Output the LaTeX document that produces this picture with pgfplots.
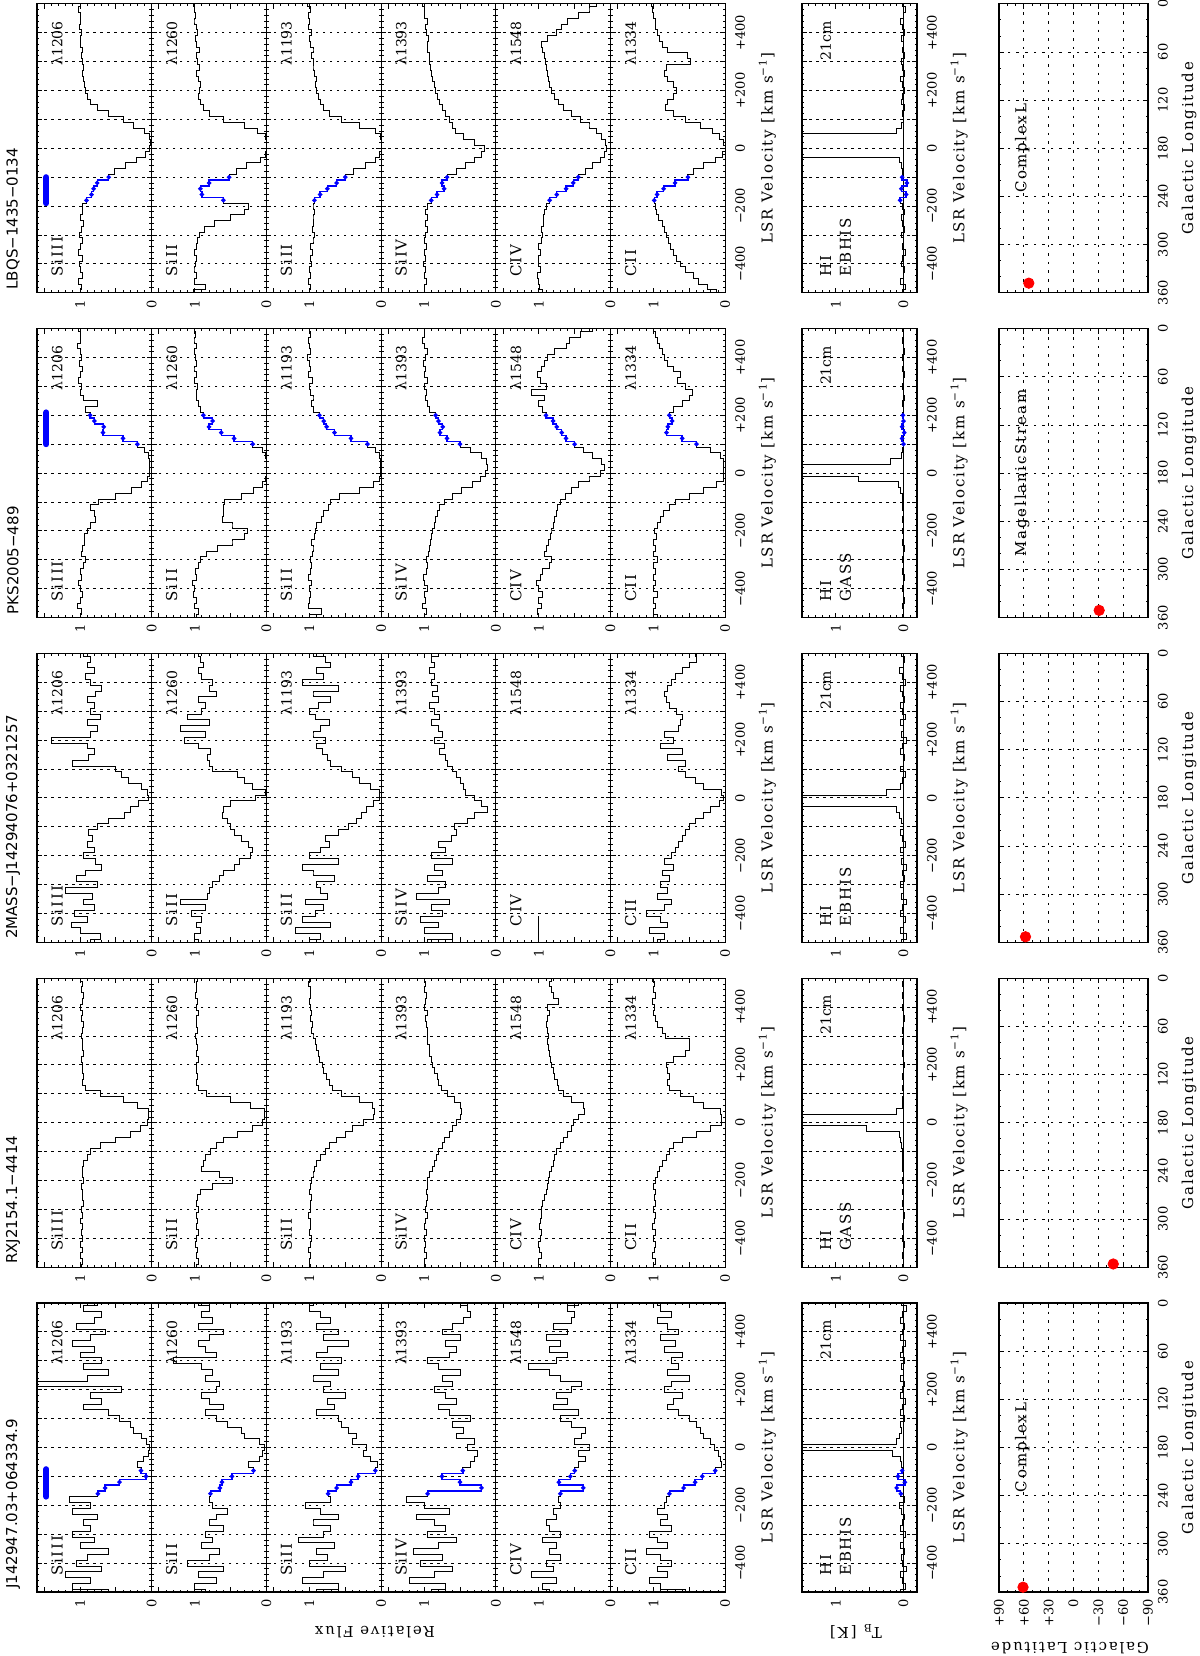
\documentclass[border=0pt]{standalone}
\usepackage{fontspec}
\setmainfont{DejaVu Serif}
\newfontfamily\spaced{DejaVu Serif}[LetterSpace=12]
\newfontfamily\titlefont{DejaVu Sans}
\usepackage{graphicx}
\usepackage{pgfplots}
\usepackage{pgfplotstable}
\pgfplotsset{compat=1.18}

\newcommand\lab{\spaced\fontsize{7.5}{8}\selectfont}
\newcommand\lam{\fontsize{7}{8}\selectfont}
\newcommand\tkfont{\fontsize{6.5}{7}\selectfont}

% ---------------- LBQS-1435-0134 ----------------
\pgfplotstableread[row sep=\\]{v f\\
-500 1.00\\-480 0.98\\-460 1.02\\-440 0.97\\-420 1.00\\-400 1.01\\-380 0.97\\-360 1.02\\-340 0.99\\-320 0.96\\
-300 1.01\\-280 0.98\\-260 0.95\\-240 0.99\\-220 0.96\\-200 0.97\\-180 0.91\\-160 0.84\\-140 0.81\\-120 0.76\\
-100 0.60\\-80 0.52\\-60 0.36\\-40 0.21\\-20 0.09\\0 0.03\\20 0.02\\40 0.03\\60 0.10\\80 0.25\\
100 0.40\\120 0.60\\140 0.76\\160 0.85\\180 0.90\\200 0.92\\220 0.94\\240 0.95\\260 0.96\\280 0.95\\
300 0.97\\320 0.98\\340 0.96\\360 0.99\\380 1.00\\400 0.98\\420 1.01\\440 1.00\\460 0.99\\480 1.02\\500 1.00\\}\tLA
\pgfplotstableread[row sep=\\]{v f\\
-500 1.02\\-480 0.85\\-460 1.00\\-440 0.98\\-420 1.01\\-400 0.99\\-380 0.97\\-360 1.00\\-340 0.98\\-320 0.96\\
-300 0.94\\-280 0.86\\-260 0.72\\-240 0.50\\-220 0.30\\-200 0.25\\-180 0.60\\-160 0.90\\-140 0.92\\-120 0.80\\
-100 0.52\\-80 0.42\\-60 0.28\\-40 0.09\\-20 0.02\\0 0.00\\20 0.00\\40 0.01\\60 0.12\\80 0.30\\
100 0.60\\120 0.80\\140 0.88\\160 0.92\\180 0.95\\200 0.94\\220 0.92\\240 0.95\\260 0.97\\280 0.93\\
300 0.96\\320 0.98\\340 0.94\\360 0.97\\380 0.99\\400 0.96\\420 0.98\\440 1.01\\460 0.99\\480 1.00\\500 1.02\\}\tLB
\pgfplotstableread[row sep=\\]{v f\\
-500 1.00\\-480 0.99\\-460 1.01\\-440 0.98\\-420 1.00\\-400 0.97\\-380 0.99\\-360 0.96\\-340 0.98\\-320 0.95\\
-300 0.93\\-280 0.96\\-260 0.94\\-240 0.95\\-220 0.93\\-200 0.95\\-180 0.93\\-160 0.85\\-140 0.75\\-120 0.62\\
-100 0.50\\-80 0.38\\-60 0.22\\-40 0.08\\-20 0.02\\0 0.00\\20 0.00\\40 0.01\\60 0.08\\80 0.30\\
100 0.55\\120 0.72\\140 0.80\\160 0.84\\180 0.88\\200 0.90\\220 0.92\\240 0.90\\260 0.93\\280 0.95\\
300 0.94\\320 0.97\\340 0.95\\360 0.98\\380 1.00\\400 0.97\\420 1.02\\440 1.00\\460 1.01\\480 0.99\\500 1.03\\}\tLC
\pgfplotstableread[row sep=\\]{v f\\
-500 0.99\\-480 1.00\\-460 0.97\\-440 1.00\\-420 0.98\\-400 1.01\\-380 0.98\\-360 1.00\\-340 0.97\\-320 0.99\\
-300 0.98\\-280 0.96\\-260 0.98\\-240 0.96\\-220 0.98\\-200 0.95\\-180 0.90\\-160 0.82\\-140 0.72\\-120 0.75\\
-100 0.68\\-80 0.55\\-60 0.42\\-40 0.30\\-20 0.20\\0 0.16\\20 0.30\\40 0.45\\60 0.56\\80 0.60\\
100 0.64\\120 0.70\\140 0.74\\160 0.78\\180 0.82\\200 0.84\\220 0.86\\240 0.88\\260 0.90\\280 0.91\\
300 0.93\\320 0.92\\340 0.95\\360 0.96\\380 0.94\\400 0.97\\420 0.98\\440 0.96\\460 0.99\\480 1.00\\500 1.02\\}\tLD
\pgfplotstableread[row sep=\\]{v f\\
-500 0.95\\-480 0.99\\-460 1.00\\-440 1.02\\-420 0.98\\-400 1.00\\-380 1.01\\-360 0.98\\-340 1.00\\-320 0.97\\
-300 0.95\\-280 0.96\\-260 0.94\\-240 0.93\\-220 0.92\\-200 0.90\\-180 0.85\\-160 0.75\\-140 0.62\\-120 0.52\\
-100 0.45\\-80 0.35\\-60 0.25\\-40 0.14\\-20 0.08\\0 0.06\\20 0.07\\40 0.12\\60 0.20\\80 0.30\\
100 0.42\\120 0.55\\140 0.65\\160 0.72\\180 0.78\\200 0.82\\220 0.85\\240 0.87\\260 0.88\\280 0.90\\
300 0.91\\320 0.92\\340 0.95\\360 0.97\\380 0.88\\400 0.75\\420 0.68\\440 0.60\\460 0.45\\480 0.30\\500 0.20\\}\tLE
\pgfplotstableread[row sep=\\]{v f\\
-500 0.12\\-480 0.25\\-460 0.38\\-440 0.45\\-420 0.55\\-400 0.62\\-380 0.68\\-360 0.72\\-340 0.76\\-320 0.79\\
-300 0.82\\-280 0.85\\-260 0.88\\-240 0.93\\-220 0.96\\-200 0.98\\-180 0.99\\-160 0.95\\-140 0.86\\-120 0.70\\
-100 0.52\\-80 0.45\\-60 0.30\\-40 0.14\\-20 0.04\\0 0.00\\20 0.02\\40 0.08\\60 0.18\\80 0.35\\
100 0.55\\120 0.72\\140 0.83\\160 0.80\\180 0.72\\200 0.68\\220 0.72\\240 0.80\\260 0.85\\280 0.82\\
300 0.48\\320 0.52\\340 0.80\\360 0.88\\380 0.92\\400 0.95\\420 0.97\\440 0.98\\460 1.00\\480 1.02\\500 1.03\\}\tLF
\pgfplotstableread[row sep=\\]{v f\\
-500 0.02\\-480 -0.03\\-460 0.04\\-440 0.00\\-420 -0.02\\-400 0.03\\-380 0.01\\-360 -0.03\\-340 0.02\\-320 0.00\\
-300 0.03\\-280 -0.02\\-260 0.01\\-240 0.03\\-220 -0.01\\-200 0.02\\-180 0.05\\-160 -0.04\\-140 0.03\\-120 -0.05\\
-100 0.02\\-80 0.01\\-60 0.03\\-40 0.06\\-20 2.50\\0 5.00\\20 5.00\\40 2.00\\60 0.10\\80 0.03\\
100 0.00\\120 0.02\\140 -0.02\\160 0.03\\180 0.01\\200 -0.01\\220 0.02\\240 0.04\\260 -0.02\\280 0.01\\
300 0.03\\320 -0.01\\340 0.02\\360 0.00\\380 0.03\\400 -0.02\\420 0.01\\440 0.04\\460 0.00\\480 -0.03\\500 0.02\\}\tLG

% ---------------- PKS2005-489 ----------------
\pgfplotstableread[row sep=\\]{v f\\
-500 1.00\\-480 0.98\\-460 1.03\\-440 1.00\\-420 0.97\\-400 1.00\\-380 1.02\\-360 0.98\\-340 1.00\\-320 0.95\\
-300 0.93\\-280 0.98\\-260 0.96\\-240 0.94\\-220 0.94\\-200 0.90\\-180 0.85\\-160 0.78\\-140 0.80\\-120 0.85\\
-100 0.74\\-80 0.50\\-60 0.28\\-40 0.14\\-20 0.06\\0 0.03\\20 0.03\\40 0.03\\60 0.04\\80 0.10\\
100 0.20\\120 0.40\\140 0.68\\160 0.67\\180 0.80\\200 0.86\\220 0.92\\240 0.75\\260 0.95\\280 1.00\\
300 0.98\\320 1.02\\340 1.00\\360 0.97\\380 1.01\\400 0.98\\420 1.00\\440 1.03\\460 0.99\\480 1.00\\500 1.02\\}\tPA
\pgfplotstableread[row sep=\\]{v f\\
-500 0.97\\-480 0.95\\-460 1.00\\-440 0.98\\-420 1.02\\-400 1.00\\-380 1.03\\-360 0.97\\-340 0.99\\-320 0.95\\
-300 0.92\\-280 0.84\\-260 0.68\\-240 0.48\\-220 0.30\\-200 0.26\\-180 0.48\\-160 0.62\\-140 0.60\\-120 0.60\\
-100 0.58\\-80 0.35\\-60 0.18\\-40 0.06\\-20 0.01\\0 0.00\\20 0.00\\40 0.00\\60 0.01\\80 0.05\\
100 0.19\\120 0.45\\140 0.63\\160 0.80\\180 0.75\\200 0.88\\220 0.92\\240 0.95\\260 0.97\\280 0.98\\
300 0.96\\320 1.00\\340 0.98\\360 1.01\\380 0.97\\400 0.99\\420 1.00\\440 0.98\\460 1.01\\480 0.99\\500 1.00\\}\tPB
\pgfplotstableread[row sep=\\]{v f\\
-500 1.00\\-480 0.83\\-460 1.02\\-440 1.00\\-420 0.98\\-400 1.00\\-380 0.97\\-360 1.01\\-340 0.99\\-320 0.97\\
-300 0.98\\-280 0.96\\-260 0.95\\-240 0.97\\-220 0.93\\-200 0.92\\-180 0.90\\-160 0.83\\-140 0.80\\-120 0.74\\
-100 0.70\\-80 0.58\\-60 0.30\\-40 0.10\\-20 0.02\\0 0.01\\20 0.01\\40 0.01\\60 0.02\\80 0.08\\
100 0.19\\120 0.42\\140 0.65\\160 0.76\\180 0.80\\200 0.86\\220 0.94\\240 0.97\\260 0.95\\280 0.99\\
300 1.00\\320 0.96\\340 1.02\\360 0.98\\380 1.00\\400 1.03\\420 0.98\\440 1.00\\460 1.02\\480 0.99\\500 1.00\\}\tPC
\pgfplotstableread[row sep=\\]{v f\\
-500 0.99\\-480 0.97\\-460 1.02\\-440 0.98\\-420 1.00\\-400 0.96\\-380 0.99\\-360 1.01\\-340 0.97\\-320 0.95\\
-300 0.97\\-280 0.94\\-260 0.93\\-240 0.91\\-220 0.90\\-200 0.88\\-180 0.86\\-160 0.84\\-140 0.82\\-120 0.78\\
-100 0.72\\-80 0.60\\-60 0.48\\-40 0.32\\-20 0.22\\0 0.14\\20 0.12\\40 0.13\\60 0.20\\80 0.35\\
100 0.50\\120 0.68\\140 0.78\\160 0.74\\180 0.80\\200 0.84\\220 0.92\\240 0.96\\260 0.98\\280 0.97\\
300 0.99\\320 0.96\\340 1.00\\360 0.98\\380 1.01\\400 0.98\\420 0.95\\440 1.00\\460 1.02\\480 0.99\\500 1.00\\}\tPD
\pgfplotstableread[row sep=\\]{v f\\
-500 1.00\\-480 1.02\\-460 0.97\\-440 1.00\\-420 0.95\\-400 1.00\\-380 1.03\\-360 0.98\\-340 0.95\\-320 0.85\\
-300 0.82\\-280 0.92\\-260 0.90\\-240 0.86\\-220 0.84\\-200 0.83\\-180 0.80\\-160 0.78\\-140 0.76\\-120 0.74\\
-100 0.70\\-80 0.63\\-60 0.55\\-40 0.45\\-20 0.30\\0 0.14\\20 0.09\\40 0.12\\60 0.25\\80 0.38\\
100 0.50\\120 0.62\\140 0.68\\160 0.75\\180 0.80\\200 0.90\\220 0.95\\240 1.00\\260 0.92\\280 1.10\\
300 0.90\\320 0.98\\340 1.02\\360 0.97\\380 0.92\\400 0.88\\420 0.78\\440 0.62\\460 0.57\\480 0.42\\500 0.25\\}\tPE
\pgfplotstableread[row sep=\\]{v f\\
-500 0.94\\-480 1.00\\-460 0.98\\-440 1.00\\-420 0.95\\-400 1.00\\-380 0.98\\-360 1.00\\-340 0.97\\-320 1.00\\
-300 0.95\\-280 1.00\\-260 0.97\\-240 1.00\\-220 0.96\\-200 0.99\\-180 0.94\\-160 0.90\\-140 0.86\\-120 0.78\\
-100 0.70\\-80 0.50\\-60 0.30\\-40 0.12\\-20 0.03\\0 0.02\\20 0.02\\40 0.03\\60 0.06\\80 0.20\\
100 0.40\\120 0.60\\140 0.82\\160 0.80\\180 0.74\\200 0.78\\220 0.72\\240 0.60\\260 0.50\\280 0.46\\
300 0.56\\320 0.67\\340 0.62\\360 0.72\\380 0.80\\400 0.85\\420 0.88\\440 0.92\\460 0.95\\480 0.97\\500 1.00\\}\tPF
\pgfplotstableread[row sep=\\]{v f\\
-500 0.01\\-480 0.00\\-460 0.01\\-440 -0.01\\-420 0.00\\-400 0.01\\-380 0.00\\-360 -0.01\\-340 0.01\\-320 0.00\\
-300 0.01\\-280 0.00\\-260 -0.01\\-240 0.01\\-220 0.00\\-200 0.01\\-180 0.00\\-160 0.01\\-140 0.00\\-120 0.01\\
-100 0.01\\-80 0.02\\-60 0.04\\-40 0.08\\-20 0.67\\0 5.00\\20 5.00\\40 0.20\\60 0.03\\80 0.01\\
100 0.00\\120 0.02\\140 -0.01\\160 0.02\\180 0.00\\200 0.01\\220 0.00\\240 0.01\\260 -0.01\\280 0.00\\
300 0.01\\320 0.00\\340 -0.01\\360 0.01\\380 0.00\\400 0.01\\420 -0.01\\440 0.00\\460 0.01\\480 0.00\\500 0.01\\}\tPG

% ---------------- 2MASS-J14294076+0321257 ----------------
\pgfplotstableread[row sep=\\]{v f\\
-500 0.85\\-480 0.72\\-460 1.00\\-440 1.12\\-420 0.90\\-400 1.08\\-380 0.80\\-360 0.95\\-340 0.82\\-320 1.20\\
-300 0.75\\-280 1.05\\-260 0.92\\-240 0.70\\-220 0.78\\-200 0.95\\-180 0.80\\-160 0.90\\-140 0.82\\-120 0.88\\
-100 0.75\\-80 0.60\\-60 0.38\\-40 0.30\\-20 0.18\\0 0.04\\20 0.06\\40 0.15\\60 0.32\\80 0.42\\
100 0.50\\120 1.10\\140 0.88\\160 0.80\\180 0.90\\200 1.40\\220 0.85\\240 0.75\\260 0.90\\280 0.72\\
300 0.85\\320 0.80\\340 0.90\\360 0.78\\380 0.70\\400 0.86\\420 0.92\\440 0.80\\460 0.90\\480 0.85\\500 0.95\\}\tMA
\pgfplotstableread[row sep=\\]{v f\\
-500 0.95\\-480 1.00\\-460 0.92\\-440 0.97\\-420 0.90\\-400 1.05\\-380 0.85\\-360 1.20\\-340 0.82\\-320 0.80\\
-300 0.75\\-280 0.65\\-260 0.60\\-240 0.45\\-220 0.38\\-200 0.22\\-180 0.20\\-160 0.25\\-140 0.35\\-120 0.45\\
-100 0.50\\-80 0.55\\-60 0.62\\-40 0.60\\-20 0.50\\0 0.15\\20 0.02\\40 0.20\\60 0.30\\80 0.40\\
100 0.75\\120 0.80\\140 0.82\\160 0.78\\180 0.95\\200 1.15\\220 0.85\\240 1.20\\260 0.80\\280 1.10\\
300 0.90\\320 0.85\\340 0.95\\360 0.70\\380 0.80\\400 0.75\\420 0.90\\440 0.95\\460 0.88\\480 0.92\\500 0.95\\}\tMB
\pgfplotstableread[row sep=\\]{v f\\
-500 1.00\\-480 0.85\\-460 1.20\\-440 0.70\\-420 1.10\\-400 0.92\\-380 0.80\\-360 1.05\\-340 0.75\\-320 0.85\\
-300 0.90\\-280 0.65\\-260 0.95\\-240 1.10\\-220 0.60\\-200 1.00\\-180 0.85\\-160 0.72\\-140 0.78\\-120 0.60\\
-100 0.45\\-80 0.35\\-60 0.28\\-40 0.20\\-20 0.10\\0 0.03\\20 0.02\\40 0.15\\60 0.30\\80 0.40\\
100 0.55\\120 0.70\\140 0.75\\160 0.82\\180 0.90\\200 0.78\\220 0.95\\240 0.85\\260 0.72\\280 0.92\\
300 1.00\\320 0.88\\340 0.70\\360 0.95\\380 0.60\\400 1.10\\420 0.80\\440 0.90\\460 0.70\\480 0.78\\500 0.95\\}\tMC
\pgfplotstableread[row sep=\\]{v f\\
-500 0.95\\-480 0.60\\-460 1.00\\-440 0.80\\-420 1.05\\-400 0.75\\-380 0.90\\-360 0.65\\-340 1.10\\-320 0.80\\
-300 0.70\\-280 0.95\\-260 0.75\\-240 0.85\\-220 0.60\\-200 0.90\\-180 0.70\\-160 0.80\\-140 0.62\\-120 0.55\\
-100 0.58\\-80 0.40\\-60 0.30\\-40 0.12\\-20 0.20\\0 0.30\\20 0.42\\40 0.45\\60 0.50\\80 0.55\\
100 0.60\\120 0.68\\140 0.70\\160 0.78\\180 0.72\\200 0.85\\220 0.75\\240 0.80\\260 0.90\\280 0.78\\
300 0.85\\320 0.92\\340 0.80\\360 0.88\\380 0.82\\400 0.90\\420 0.86\\440 0.92\\460 0.85\\480 0.90\\500 0.80\\}\tMD
\pgfplotstableread[row sep=\\]{v f\\
-500 1.00\\-410 1.00\\}\tME
\pgfplotstableread[row sep=\\]{v f\\
-500 0.95\\-480 0.85\\-460 1.05\\-440 0.80\\-420 0.90\\-400 1.10\\-380 0.85\\-360 0.75\\-340 0.95\\-320 0.80\\
-300 0.90\\-280 0.78\\-260 0.88\\-240 0.72\\-220 0.85\\-200 0.75\\-180 0.70\\-160 0.65\\-140 0.60\\-120 0.55\\
-100 0.50\\-80 0.42\\-60 0.30\\-40 0.20\\-20 0.08\\0 0.02\\20 0.05\\40 0.30\\60 0.42\\80 0.55\\
100 0.65\\120 0.55\\140 0.80\\160 0.60\\180 0.90\\200 0.72\\220 0.85\\240 0.65\\260 0.62\\280 0.60\\
300 0.68\\320 0.78\\340 0.82\\360 0.85\\380 0.80\\400 0.75\\420 0.70\\440 0.60\\460 0.50\\480 0.40\\500 0.42\\}\tMF
\pgfplotstableread[row sep=\\]{v f\\
-500 0.03\\-480 -0.04\\-460 0.05\\-440 0.00\\-420 -0.03\\-400 0.04\\-380 0.01\\-360 -0.05\\-340 0.03\\-320 0.00\\
-300 0.05\\-280 -0.02\\-260 0.02\\-240 -0.04\\-220 0.03\\-200 0.00\\-180 0.04\\-160 -0.03\\-140 0.02\\-120 0.05\\
-100 0.00\\-80 0.03\\-60 0.06\\-40 0.10\\-20 3.00\\0 5.00\\20 0.25\\40 0.05\\60 0.02\\80 -0.03\\
100 0.04\\120 0.00\\140 -0.02\\160 0.05\\180 0.01\\200 -0.04\\220 0.03\\240 0.00\\260 0.04\\280 -0.03\\
300 0.02\\320 0.05\\340 -0.02\\360 0.01\\380 0.04\\400 -0.03\\420 0.02\\440 0.06\\460 0.00\\480 -0.02\\500 0.03\\}\tMG

% ---------------- RXJ2154.1-4414 ----------------
\pgfplotstableread[row sep=\\]{v f\\
-500 0.98\\-480 0.96\\-460 0.99\\-440 0.97\\-420 1.00\\-400 0.96\\-380 0.98\\-360 0.97\\-340 0.99\\-320 0.96\\
-300 0.98\\-280 0.95\\-260 0.97\\-240 0.96\\-220 0.98\\-200 0.95\\-180 0.97\\-160 0.96\\-140 0.95\\-120 0.90\\
-100 0.85\\-80 0.72\\-60 0.50\\-40 0.30\\-20 0.16\\0 0.06\\20 0.04\\40 0.04\\60 0.20\\80 0.40\\
100 0.72\\120 0.93\\140 0.96\\160 0.95\\180 0.97\\200 0.96\\220 0.98\\240 0.95\\260 0.97\\280 0.96\\
300 0.98\\320 0.97\\340 0.95\\360 0.98\\380 0.96\\400 0.99\\420 0.97\\440 0.95\\460 0.98\\480 0.96\\500 0.99\\}\tRA
\pgfplotstableread[row sep=\\]{v f\\
-500 0.97\\-480 0.95\\-460 0.98\\-440 0.96\\-420 0.99\\-400 0.97\\-380 0.95\\-360 0.98\\-340 0.96\\-320 0.97\\
-300 0.95\\-280 0.97\\-260 0.96\\-240 0.92\\-220 0.75\\-200 0.47\\-180 0.65\\-160 0.90\\-140 0.88\\-120 0.85\\
-100 0.78\\-80 0.70\\-60 0.60\\-40 0.40\\-20 0.20\\0 0.05\\20 0.03\\40 0.03\\60 0.22\\80 0.50\\
100 0.83\\120 0.95\\140 0.97\\160 0.96\\180 0.98\\200 0.97\\220 0.95\\240 0.98\\260 0.96\\280 0.97\\
300 0.99\\320 0.96\\340 0.98\\360 0.97\\380 0.95\\400 0.98\\420 0.96\\440 0.99\\460 0.97\\480 0.98\\500 0.96\\}\tRB
\pgfplotstableread[row sep=\\]{v f\\
-500 0.99\\-480 1.00\\-460 0.98\\-440 1.01\\-420 0.99\\-400 0.97\\-380 1.00\\-360 0.98\\-340 0.99\\-320 1.01\\
-300 0.98\\-280 0.99\\-260 0.97\\-240 1.00\\-220 0.98\\-200 0.97\\-180 0.95\\-160 0.93\\-140 0.90\\-120 0.84\\
-100 0.78\\-80 0.72\\-60 0.62\\-40 0.50\\-20 0.40\\0 0.25\\20 0.10\\40 0.09\\60 0.12\\80 0.30\\
100 0.55\\120 0.68\\140 0.72\\160 0.76\\180 0.80\\200 0.82\\220 0.86\\240 0.88\\260 0.90\\280 0.92\\
300 0.95\\320 0.97\\340 0.96\\360 0.98\\380 0.97\\400 0.99\\420 1.00\\440 0.98\\460 0.99\\480 1.01\\500 0.98\\}\tRC
\pgfplotstableread[row sep=\\]{v f\\
-500 0.98\\-480 1.00\\-460 0.97\\-440 0.99\\-420 0.98\\-400 1.00\\-380 0.97\\-360 0.99\\-340 0.98\\-320 0.96\\
-300 0.98\\-280 0.97\\-260 0.96\\-240 0.97\\-220 0.95\\-200 0.95\\-180 0.92\\-160 0.88\\-140 0.85\\-120 0.83\\
-100 0.80\\-80 0.75\\-60 0.72\\-40 0.65\\-20 0.60\\0 0.55\\20 0.50\\40 0.48\\60 0.50\\80 0.58\\
100 0.68\\120 0.76\\140 0.80\\160 0.82\\180 0.85\\200 0.88\\220 0.90\\240 0.92\\260 0.93\\280 0.95\\
300 0.96\\320 0.95\\340 0.97\\360 0.98\\380 0.96\\400 0.99\\420 0.98\\440 0.97\\460 1.00\\480 0.98\\500 0.99\\}\tRD
\pgfplotstableread[row sep=\\]{v f\\
-500 0.98\\-480 1.00\\-460 0.97\\-440 0.99\\-420 1.00\\-400 0.98\\-380 0.97\\-360 0.99\\-340 0.98\\-320 0.97\\
-300 0.96\\-280 0.95\\-260 0.92\\-240 0.90\\-220 0.88\\-200 0.87\\-180 0.85\\-160 0.82\\-140 0.80\\-120 0.78\\
-100 0.75\\-80 0.70\\-60 0.66\\-40 0.60\\-20 0.55\\0 0.52\\20 0.45\\40 0.36\\60 0.38\\80 0.55\\
100 0.65\\120 0.72\\140 0.74\\160 0.78\\180 0.80\\200 0.82\\220 0.84\\240 0.85\\260 0.86\\280 0.88\\
300 0.87\\320 0.88\\340 0.90\\360 0.88\\380 0.85\\400 0.88\\420 0.72\\440 0.80\\460 0.82\\480 0.85\\500 0.83\\}\tRE
\pgfplotstableread[row sep=\\]{v f\\
-500 1.00\\-480 0.98\\-460 1.01\\-440 0.99\\-420 0.97\\-400 1.00\\-380 0.98\\-360 1.01\\-340 0.99\\-320 0.97\\
-300 1.00\\-280 0.98\\-260 0.99\\-240 0.97\\-220 1.00\\-200 0.98\\-180 0.95\\-160 0.92\\-140 0.88\\-120 0.82\\
-100 0.78\\-80 0.72\\-60 0.60\\-40 0.40\\-20 0.20\\0 0.05\\20 0.05\\40 0.06\\60 0.30\\80 0.45\\
100 0.62\\120 0.78\\140 0.80\\160 0.78\\180 0.80\\200 0.82\\220 0.72\\240 0.55\\260 0.50\\280 0.50\\
300 0.83\\320 0.88\\340 0.95\\360 0.98\\380 1.00\\400 0.99\\420 1.01\\440 0.98\\460 1.00\\480 0.99\\500 1.01\\}\tRF
\pgfplotstableread[row sep=\\]{v f\\
-500 0.01\\-480 0.00\\-460 0.01\\-440 0.00\\-420 -0.01\\-400 0.01\\-380 0.00\\-360 0.01\\-340 0.00\\-320 -0.01\\
-300 0.00\\-280 0.01\\-260 0.00\\-240 0.01\\-220 0.00\\-200 0.01\\-180 0.00\\-160 0.01\\-140 0.01\\-120 0.02\\
-100 0.02\\-80 0.03\\-60 0.04\\-40 0.06\\-20 0.55\\0 5.00\\20 3.00\\40 0.10\\60 0.02\\80 0.01\\
100 0.00\\120 0.01\\140 0.00\\160 0.01\\180 0.00\\200 -0.01\\220 0.00\\240 0.01\\260 0.00\\280 0.01\\
300 0.00\\320 0.01\\340 0.00\\360 -0.01\\380 0.00\\400 0.01\\420 0.00\\440 0.01\\460 0.00\\480 0.01\\500 0.00\\}\tRG

% ---------------- J142947.03+064334.9 ----------------
\pgfplotstableread[row sep=\\]{v f\\
-500 0.60\\-480 1.10\\-460 0.85\\-440 1.20\\-420 0.70\\-400 1.05\\-380 0.90\\-360 0.60\\-340 1.00\\-320 0.80\\
-300 1.10\\-280 0.85\\-260 0.95\\-240 0.75\\-220 1.10\\-200 0.85\\-180 1.15\\-160 0.75\\-140 0.65\\-120 0.45\\
-100 0.08\\-80 0.15\\-60 0.20\\-40 0.12\\-20 0.05\\0 0.03\\20 0.08\\40 0.15\\60 0.25\\80 0.30\\
100 0.45\\120 0.60\\140 0.95\\160 0.70\\180 0.85\\200 0.42\\220 1.65\\240 0.90\\260 0.60\\280 0.95\\
300 0.70\\320 1.00\\340 0.80\\360 1.10\\380 0.85\\400 0.65\\420 1.05\\440 0.80\\460 0.70\\480 0.95\\500 0.75\\}\tJA
\pgfplotstableread[row sep=\\]{v f\\
-500 0.85\\-480 1.00\\-460 0.70\\-440 0.95\\-420 0.60\\-400 1.10\\-380 0.80\\-360 0.65\\-340 0.90\\-320 0.75\\
-300 0.85\\-280 0.60\\-260 0.80\\-240 0.70\\-220 0.55\\-200 0.75\\-180 0.80\\-160 0.78\\-140 0.65\\-120 0.62\\
-100 0.48\\-80 0.18\\-60 0.25\\-40 0.10\\-20 0.05\\0 0.03\\20 0.10\\40 0.30\\60 0.35\\80 0.55\\
100 0.70\\120 0.85\\140 0.60\\160 0.80\\180 0.90\\200 0.70\\220 0.65\\240 0.85\\260 0.75\\280 0.90\\
300 1.30\\320 0.70\\340 0.85\\360 0.95\\380 0.80\\400 0.60\\420 0.95\\440 0.75\\460 0.90\\480 0.80\\500 0.95\\}\tJB
\pgfplotstableread[row sep=\\]{v f\\
-500 0.90\\-480 0.60\\-460 1.10\\-440 0.80\\-420 0.50\\-400 1.00\\-380 0.75\\-360 0.90\\-340 0.65\\-320 1.15\\
-300 0.80\\-280 0.70\\-260 0.95\\-240 0.60\\-220 0.85\\-200 1.05\\-180 0.70\\-160 0.74\\-140 0.62\\-120 0.42\\
-100 0.32\\-80 0.08\\-60 0.05\\-40 0.15\\-20 0.25\\0 0.20\\20 0.40\\40 0.35\\60 0.45\\80 0.55\\
100 0.60\\120 0.90\\140 0.65\\160 0.75\\180 0.50\\200 0.80\\220 0.70\\240 0.95\\260 0.60\\280 0.85\\
300 0.55\\320 0.90\\340 0.75\\360 0.45\\380 0.80\\400 0.60\\420 0.90\\440 0.70\\460 0.85\\480 1.00\\500 0.95\\}\tJC
\pgfplotstableread[row sep=\\]{v f\\
-500 0.90\\-480 0.70\\-460 1.20\\-440 0.85\\-420 0.60\\-400 1.05\\-380 0.75\\-360 1.15\\-340 0.80\\-320 0.55\\
-300 0.95\\-280 0.70\\-260 0.85\\-240 1.10\\-220 0.65\\-200 1.00\\-180 1.25\\-160 0.95\\-140 0.20\\-120 0.50\\
-100 0.75\\-80 0.46\\-60 0.35\\-40 0.30\\-20 0.25\\0 0.40\\20 0.30\\40 0.55\\60 0.45\\80 0.60\\
100 0.35\\120 0.65\\140 0.80\\160 0.55\\180 0.70\\200 0.85\\220 0.60\\240 0.75\\260 0.50\\280 0.80\\
300 0.95\\320 0.65\\340 0.55\\360 0.70\\380 0.50\\400 0.75\\420 0.60\\440 0.45\\460 0.35\\480 0.40\\500 0.50\\}\tJD
\pgfplotstableread[row sep=\\]{v f\\
-500 0.85\\-480 0.95\\-460 0.75\\-440 1.10\\-420 0.80\\-400 0.90\\-380 0.70\\-360 0.85\\-340 0.75\\-320 0.95\\
-300 0.70\\-280 0.85\\-260 0.90\\-240 0.75\\-220 0.80\\-200 0.70\\-180 0.72\\-160 0.70\\-140 0.38\\-120 0.72\\
-100 0.56\\-80 0.50\\-60 0.45\\-40 0.35\\-20 0.45\\0 0.30\\20 0.50\\40 0.40\\60 0.35\\80 0.55\\
100 0.70\\120 0.45\\140 0.80\\160 0.60\\180 0.75\\200 0.55\\220 0.40\\240 0.70\\260 0.85\\280 1.15\\
300 0.75\\320 0.60\\340 0.85\\360 0.70\\380 0.90\\400 0.60\\420 0.80\\440 0.55\\460 0.50\\480 0.60\\500 0.45\\}\tJE
\pgfplotstableread[row sep=\\]{v f\\
-500 0.55\\-480 0.90\\-460 1.05\\-440 0.80\\-420 0.95\\-400 0.75\\-380 0.90\\-360 1.10\\-340 0.80\\-320 0.95\\
-300 1.05\\-280 0.75\\-260 0.90\\-240 0.80\\-220 0.95\\-200 0.85\\-180 0.82\\-160 0.78\\-140 0.58\\-120 0.42\\
-100 0.32\\-80 0.14\\-60 0.05\\-40 0.06\\-20 0.10\\0 0.15\\20 0.20\\40 0.30\\60 0.35\\80 0.40\\
100 0.50\\120 0.65\\140 0.80\\160 0.72\\180 0.60\\200 0.85\\220 0.75\\240 0.50\\260 0.80\\280 0.65\\
300 0.75\\320 0.60\\340 0.85\\360 0.70\\380 0.90\\400 0.65\\420 0.80\\440 0.95\\460 0.75\\480 0.90\\500 0.95\\}\tJF
\pgfplotstableread[row sep=\\]{v f\\
-500 0.04\\-480 -0.03\\-460 0.02\\-440 0.05\\-420 -0.04\\-400 0.01\\-380 0.03\\-360 -0.02\\-340 0.04\\-320 0.00\\
-300 -0.03\\-280 0.05\\-260 0.01\\-240 -0.02\\-220 0.03\\-200 0.06\\-180 -0.01\\-160 0.04\\-140 0.10\\-120 -0.02\\
-100 0.08\\-80 0.02\\-60 0.03\\-40 0.05\\-20 0.17\\0 5.00\\20 0.10\\40 0.06\\60 0.03\\80 0.05\\
100 -0.02\\120 0.04\\140 0.01\\160 -0.03\\180 0.05\\200 0.02\\220 -0.01\\240 0.04\\260 0.00\\280 0.03\\
300 -0.02\\320 0.05\\340 0.01\\360 -0.03\\380 0.04\\400 0.02\\420 -0.02\\440 0.05\\460 0.01\\480 -0.04\\500 0.03\\}\tJG

\pgfplotsset{
  base/.style={scale only axis, anchor=north west,
    axis line style={line width=0.6pt}, tick align=inside, tick pos=both,
    major tick length=2.5pt, minor tick length=1.2pt,
    every tick/.style={black, line width=0.4pt},
    tick label style={font=\tkfont}, label style={font=\lab}},
  vel/.style={base, width=144.5pt, xmin=-500, xmax=500,
    xtick={-400,-300,...,400}, minor xtick={-480,-460,...,480}, xticklabels={},
    xmajorgrids, major x grid style={black, dash pattern=on 1.3pt off 2.2pt, line width=0.4pt}},
  vlab/.style={xticklabels={−400,,−200,,0,,+200,,+400},
    xticklabel style={yshift=-1.5pt},
    xlabel={LSR Velocity [km s\textsuperscript{−1}]}},
  ion/.style={vel, height=57.35pt, ymin=0, ymax=1.6,
    ytick={0,0.5,1,1.5}, yticklabels={0,,1,}, minor ytick={0.1,0.2,...,1.55}},
  hi/.style={vel, height=57.5pt, ymin=-0.2, ymax=1.5,
    ytick={0,0.5,1}, yticklabels={0,,1}, minor ytick={-0.1,0.1,0.2,...,1.45}},
  gal/.style={base, width=144.5pt, height=74.5pt, xmin=0, xmax=360, x dir=reverse,
    ymin=-90, ymax=90, xtick={0,60,...,360}, xticklabels={0,60,120,180,240,300,360},
    minor xtick={20,40,...,340}, ytick={-90,-60,...,90}, yticklabels={},
    minor ytick={-80,-70,...,80}, grid=major,
    major grid style={black, dash pattern=on 1.3pt off 3pt, line width=0.4pt},
    xticklabel style={yshift=-1.5pt}, xlabel={Galactic Longitude}},
  spec/.style={black, line width=0.45pt, const plot mark mid, no marks},
  hvc/.style={blue, line width=0.7pt, const plot mark mid, mark=*, mark size=0.75pt,
    mark options={solid, fill=blue}},
  bar/.style={blue, line width=3pt, line cap=round, no marks},
}

% x, y, table, left label, right label, axis options, extra plots
\newcommand\ionpanel[7]{%
  \begin{axis}[ion, at={(#1,#2)}, #6]
    \addplot[spec] table {#3};
    #7
    \node[anchor=west, inner sep=0pt, font=\lab] at (axis cs:-445,1.32) {#4};
    \node[anchor=east, inner sep=0pt, font=\lam] at (axis cs:441,1.32) {#5};
  \end{axis}}
% x, table, survey, axis options, extra plots
\newcommand\hipanel[5]{%
  \begin{axis}[hi, vlab, at={(#1,-401pt)}, #4]
    \addplot[black, line width=0.35pt] coordinates {(-500,0) (500,0)};
    \addplot[spec] table {#2};
    #5
    \node[anchor=west, inner sep=0pt, font=\lab] at (axis cs:-445,1.15) {HI};
    \node[anchor=west, inner sep=0pt, font=\lab] at (axis cs:-445,0.86) {#3};
    \node[anchor=east, inner sep=0pt, font=\lam] at (axis cs:441,1.15) {21cm};
  \end{axis}}
% x, l, b, label, axis options
\newcommand\galpanel[5]{%
  \begin{axis}[gal, at={(#1,-499.5pt)}, #5]
    \addplot[only marks, mark=*, mark size=2.6pt, red] coordinates {(#2,#3)};
    \node[font=\lab] at (axis cs:180,62) {#4};
  \end{axis}}
\newcommand\hv[3]{\addplot[hvc, restrict x to domain=#1:#2] table {#3};}

\def\cJ{32pt}\def\cR{194.4pt}\def\cM{356.8pt}\def\cP{519.2pt}\def\cL{681.6pt}
\def\rA{-18.5pt}\def\rB{-75.85pt}\def\rC{-133.2pt}\def\rD{-190.55pt}\def\rE{-247.9pt}\def\rF{-305.25pt}

\begin{document}
\rotatebox{90}{%
\begin{tikzpicture}
\useasboundingbox (0,0) rectangle (828pt,-600pt);

% titles
\begin{scope}[every node/.style={anchor=west, inner sep=0pt, font=\titlefont\fontsize{7.5}{8}\selectfont}]
\node at (33.5pt,-6.5pt) {J142947.03+064334.9};
\node at (195.9pt,-6.5pt) {RXJ2154.1−4414};
\node at (358.3pt,-6.5pt) {2MASS−J14294076+0321257};
\node at (520.7pt,-6.5pt) {PKS2005−489};
\node at (683.1pt,-6.5pt) {LBQS−1435−0134};
\end{scope}

\node[rotate=90, font=\lab] at (12pt,-187.5pt) {Relative Flux};
\node[rotate=90, font=\lab] at (12pt,-428pt) {T\textsubscript{B} [K]};
\node[rotate=90, font=\lab] at (4pt,-535pt) {Galactic Latitude};

% J142947.03+064334.9
\ionpanel{\cJ}{\rA}{\tJA}{SiIII}{λ1206}{}{\hv{-160}{-80}{\tJA}\addplot[bar] coordinates {(-170,1.47) (-75,1.47)};}
\ionpanel{\cJ}{\rB}{\tJB}{SiII}{λ1260}{}{\hv{-160}{-80}{\tJB}}
\ionpanel{\cJ}{\rC}{\tJC}{SiII}{λ1193}{}{\hv{-160}{-80}{\tJC}}
\ionpanel{\cJ}{\rD}{\tJD}{SiIV}{λ1393}{}{\hv{-160}{-80}{\tJD}}
\ionpanel{\cJ}{\rE}{\tJE}{CIV}{λ1548}{}{\hv{-160}{-80}{\tJE}}
\ionpanel{\cJ}{\rF}{\tJF}{CII}{λ1334}{vlab}{\hv{-160}{-80}{\tJF}}
\hipanel{\cJ}{\tJG}{EBHIS}{}{\hv{-160}{-80}{\tJG}}
\galpanel{\cJ}{354}{61}{ComplexL}{yticklabels={−90,−60,−30,0,+30,+60,+90}}

% RXJ2154.1-4414
\ionpanel{\cR}{\rA}{\tRA}{SiIII}{λ1206}{}{}
\ionpanel{\cR}{\rB}{\tRB}{SiII}{λ1260}{}{}
\ionpanel{\cR}{\rC}{\tRC}{SiII}{λ1193}{}{}
\ionpanel{\cR}{\rD}{\tRD}{SiIV}{λ1393}{}{}
\ionpanel{\cR}{\rE}{\tRE}{CIV}{λ1548}{}{}
\ionpanel{\cR}{\rF}{\tRF}{CII}{λ1334}{vlab}{}
\hipanel{\cR}{\tRG}{GASS}{}{}
\galpanel{\cR}{356}{-48}{}{}

% 2MASS-J14294076+0321257
\ionpanel{\cM}{\rA}{\tMA}{SiIII}{λ1206}{}{}
\ionpanel{\cM}{\rB}{\tMB}{SiII}{λ1260}{}{}
\ionpanel{\cM}{\rC}{\tMC}{SiII}{λ1193}{}{}
\ionpanel{\cM}{\rD}{\tMD}{SiIV}{λ1393}{}{}
\ionpanel{\cM}{\rE}{\tME}{CIV}{λ1548}{}{}
\ionpanel{\cM}{\rF}{\tMF}{CII}{λ1334}{vlab}{}
\hipanel{\cM}{\tMG}{EBHIS}{}{}
\galpanel{\cM}{353}{58}{}{}

% PKS2005-489
\ionpanel{\cP}{\rA}{\tPA}{SiIII}{λ1206}{}{\hv{100}{200}{\tPA}\addplot[bar] coordinates {(100,1.47) (210,1.47)};}
\ionpanel{\cP}{\rB}{\tPB}{SiII}{λ1260}{}{\hv{100}{200}{\tPB}}
\ionpanel{\cP}{\rC}{\tPC}{SiII}{λ1193}{}{\hv{100}{200}{\tPC}}
\ionpanel{\cP}{\rD}{\tPD}{SiIV}{λ1393}{}{\hv{100}{200}{\tPD}}
\ionpanel{\cP}{\rE}{\tPE}{CIV}{λ1548}{}{\hv{100}{200}{\tPE}}
\ionpanel{\cP}{\rF}{\tPF}{CII}{λ1334}{vlab}{\hv{100}{200}{\tPF}}
\hipanel{\cP}{\tPG}{GASS}{}{\hv{100}{200}{\tPG}}
\galpanel{\cP}{351}{-31}{MagellanicStream}{}

% LBQS-1435-0134
\ionpanel{\cL}{\rA}{\tLA}{SiIII}{λ1206}{}{\hv{-180}{-100}{\tLA}\addplot[bar] coordinates {(-190,1.47) (-100,1.47)};}
\ionpanel{\cL}{\rB}{\tLB}{SiII}{λ1260}{}{\hv{-180}{-100}{\tLB}}
\ionpanel{\cL}{\rC}{\tLC}{SiII}{λ1193}{}{\hv{-180}{-100}{\tLC}}
\ionpanel{\cL}{\rD}{\tLD}{SiIV}{λ1393}{}{\hv{-180}{-100}{\tLD}}
\ionpanel{\cL}{\rE}{\tLE}{CIV}{λ1548}{}{\hv{-180}{-100}{\tLE}}
\ionpanel{\cL}{\rF}{\tLF}{CII}{λ1334}{vlab}{\hv{-180}{-100}{\tLF}}
\hipanel{\cL}{\tLG}{EBHIS}{}{\hv{-180}{-100}{\tLG}}
\galpanel{\cL}{348}{54}{ComplexL}{}
\end{tikzpicture}}
\end{document}
